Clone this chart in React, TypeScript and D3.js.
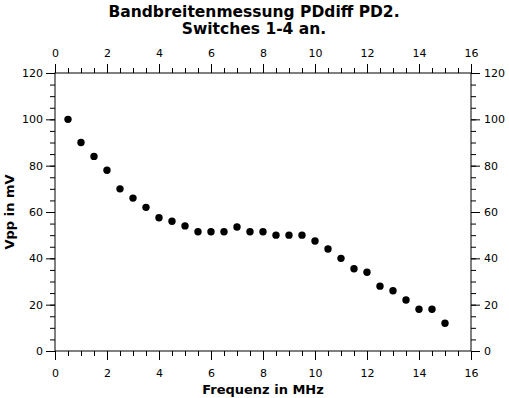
import React, { useEffect, useRef } from 'react';
import * as d3 from 'd3';

// Frequency in MHz and measured peak-to-peak voltage in mV
const freqs = [0.5, 1, 1.5, 2, 2.5, 3, 3.5, 4, 4.5, 5, 5.5, 6, 6.5, 7, 7.5, 8, 8.5, 9, 9.5, 10, 10.5, 11, 11.5, 12, 12.5, 13, 13.5, 14, 14.5, 15];
const vpp = [100, 90, 84, 78, 70, 66, 62, 57.5, 56, 54, 51.5, 51.5, 51.5, 53.5, 51.5, 51.5, 50, 50, 50, 47.5, 44, 40, 35.5, 34, 28, 26, 22, 18, 18, 12];
const xTicks = [0, 2, 4, 6, 8, 10, 12, 14, 16];
const yTicks = [0, 20, 40, 60, 80, 100, 120];
const titleLines = ['Bandbreitenmessung PDdiff PD2.', 'Switches 1-4 an.'];

const App: React.FC = () => {
  const svgRef = useRef<SVGSVGElement>(null);

  useEffect(() => {
    if (!svgRef.current) return;
    const svg = d3.select(svgRef.current);
    svg.selectAll('*').remove();

    const width = 509;
    const height = 398;
    const margin = { top: 73, right: 38, bottom: 47, left: 55 };
    const w = width - margin.left - margin.right;
    const h = height - margin.top - margin.bottom;
    const font = 'DejaVu Sans, sans-serif';

    svg.append('rect').attr('width', width).attr('height', height).attr('fill', '#fff');

    const g = svg.append('g').attr('transform', `translate(${margin.left},${margin.top})`);

    const x = d3.scaleLinear().domain([0, 16]).range([0, w]);
    const y = d3.scaleLinear().domain([0, 120]).range([h, 0]);

    const xMinor = d3.range(0, 16.01, 0.5);
    const yMinor = d3.range(0, 120.01, 5);

    const styleAxis = (sel: any) => {
      sel.select('.domain').remove();
      sel.selectAll('text').attr('font-family', font).attr('font-size', 11).attr('fill', '#000');
      sel.selectAll('line').attr('stroke', '#000');
    };

    // minor ticks
    g.append('g').attr('transform', `translate(0,${h})`)
      .call(d3.axisBottom(x).tickValues(xMinor).tickSize(5).tickFormat(() => '')).call(styleAxis);
    g.append('g')
      .call(d3.axisTop(x).tickValues(xMinor).tickSize(5).tickFormat(() => '')).call(styleAxis);
    g.append('g')
      .call(d3.axisLeft(y).tickValues(yMinor).tickSize(5).tickFormat(() => '')).call(styleAxis);
    g.append('g').attr('transform', `translate(${w},0)`)
      .call(d3.axisRight(y).tickValues(yMinor).tickSize(5).tickFormat(() => '')).call(styleAxis);

    // major ticks with labels
    g.append('g').attr('transform', `translate(0,${h})`)
      .call(d3.axisBottom(x).tickValues(xTicks).tickSize(9).tickPadding(9).tickFormat(d3.format('d'))).call(styleAxis);
    g.append('g')
      .call(d3.axisTop(x).tickValues(xTicks).tickSize(9).tickPadding(7).tickFormat(d3.format('d'))).call(styleAxis);
    g.append('g')
      .call(d3.axisLeft(y).tickValues(yTicks).tickSize(9).tickPadding(3).tickFormat(d3.format('d'))).call(styleAxis);
    g.append('g').attr('transform', `translate(${w},0)`)
      .call(d3.axisRight(y).tickValues(yTicks).tickSize(9).tickPadding(4).tickFormat(d3.format('d'))).call(styleAxis);

    // frame
    g.append('rect')
      .attr('width', w)
      .attr('height', h)
      .attr('fill', 'none')
      .attr('stroke', '#000')
      .attr('stroke-width', 1);

    // points
    g.selectAll('.pt')
      .data(freqs.map((f, i) => ({ f, v: vpp[i] })))
      .enter()
      .append('circle')
      .attr('class', 'pt')
      .attr('cx', d => x(d.f))
      .attr('cy', d => y(d.v))
      .attr('r', 3.7)
      .attr('fill', '#000');

    // title
    svg.selectAll('.title')
      .data(titleLines)
      .enter()
      .append('text')
      .attr('class', 'title')
      .attr('x', 254)
      .attr('y', (d, i) => 17 + i * 16.5)
      .attr('text-anchor', 'middle')
      .attr('font-family', font)
      .attr('font-weight', 'bold')
      .attr('font-size', 15.5)
      .text(d => d);

    // axis labels
    svg.append('text')
      .attr('x', margin.left + w / 2)
      .attr('y', 394)
      .attr('text-anchor', 'middle')
      .attr('font-family', font)
      .attr('font-weight', 'bold')
      .attr('font-size', 13)
      .text('Frequenz in MHz');

    svg.append('text')
      .attr('transform', `translate(14,${margin.top + h / 2}) rotate(-90)`)
      .attr('text-anchor', 'middle')
      .attr('font-family', font)
      .attr('font-weight', 'bold')
      .attr('font-size', 13)
      .text('Vpp in mV');
  }, []);

  return (
    <svg
      ref={svgRef}
      width={509}
      height={398}
      style={{ position: 'absolute', left: 0, top: 0, display: 'block' }}
    />
  );
};

export default App;
